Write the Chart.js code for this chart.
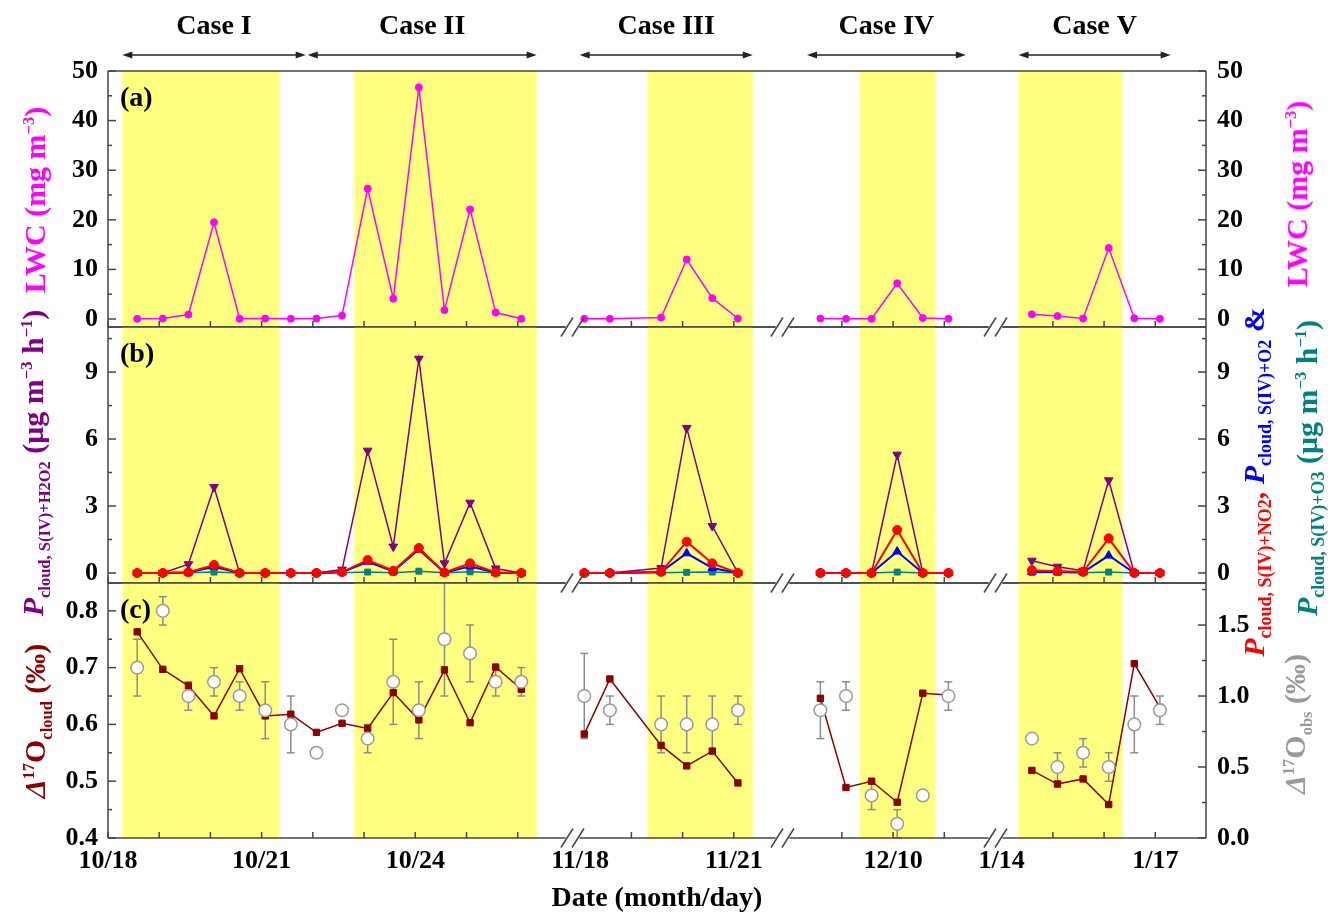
<!DOCTYPE html>
<html>
<head>
<meta charset="utf-8">
<script src="https://cdn.jsdelivr.net/npm/chart.js@4.4.1/dist/chart.umd.min.js"></script>
<style>
  body { margin: 0; background: #fff; }
  #wrap { position: relative; width: 1331px; height: 913px; background: #fff; overflow: hidden;
          font-family: 'Liberation Serif', 'Times New Roman', serif; }
  canvas { position: absolute; left: 0; }
  .ttl { position: absolute; white-space: nowrap; font-weight: bold; font-size: 30px; line-height: 1;
         transform: translate(-50%, -50%) rotate(-90deg); }
  .ttl sub, .ttl sup { font-size: 0.55em; line-height: 0; }
  .ttl.wide sub { font-size: 0.6em; }
</style>
</head>
<body>
<div id="wrap">
  <canvas id="cA" width="1331" height="337" style="top:0;width:1331px;height:337px"></canvas>
  <canvas id="cB" width="1331" height="276" style="top:317px;width:1331px;height:276px"></canvas>
  <canvas id="cC" width="1331" height="340" style="top:573px;width:1331px;height:340px"></canvas>

  <!-- left axis titles -->
  <div class="ttl" style="left:35px;top:200px;color:#ff00ff">LWC (mg m<sup>−3</sup>)</div>
  <div class="ttl" style="left:33px;top:463px;color:#800080"><i>P</i><sub>cloud, S(IV)+H2O2</sub> (μg m<sup>−3</sup> h<sup>−1</sup>)</div>
  <div class="ttl" style="left:35px;top:721px;color:#8b0000"><i>Δ</i><sup>17</sup>O<sub>cloud</sub> (‰)</div>

  <!-- right axis titles -->
  <div class="ttl" style="left:1297px;top:194px;color:#ff00ff">LWC (mg m<sup>−3</sup>)</div>
  <div class="ttl wide" style="left:1254px;top:482px"><span style="color:#ff0000"><i>P</i><sub>cloud, S(IV)+NO2</sub>,</span> <span style="color:#0000ff"><i>P</i><sub>cloud, S(IV)+O2</sub> &amp;</span></div>
  <div class="ttl wide" style="left:1307px;top:468px;color:#008080"><i>P</i><sub>cloud, S(IV)+O3</sub> (μg m<sup>−3</sup> h<sup>−1</sup>)</div>
  <div class="ttl" style="left:1295px;top:724px;color:#999999"><i>Δ</i><sup>17</sup>O<sub>obs</sub> (‰)</div>
</div>

<script>
// ---- data -------------------------------------------------------------
// sample times on the broken date axis (day units, 10/18 = 0)
const sampleX = [0.57, 1.07, 1.57, 2.07, 2.57, 3.07, 3.57, 4.07, 4.57, 5.07, 5.57, 6.07, 6.57, 7.07, 7.57, 8.07,
                 9.30, 9.80, 10.80, 11.30, 11.80, 12.30,
                 13.91, 14.41, 14.91, 15.41, 15.91, 16.41,
                 18.04, 18.54, 19.04, 19.54, 20.04, 20.54];
const breakX = [9.07, 13.17, 17.33];

const xTickVals = [0, 1, 2, 3, 4, 5, 6, 7, 8, 9.22, 10.22, 11.22, 12.22, 14.33, 15.33, 16.33, 17.45, 18.45, 19.45, 20.45];
const xTickText = ['10/18', '', '', '10/21', '', '', '10/24', '', '', '11/18', '', '', '11/21', '', '12/10', '', '1/14', '', '', '1/17'];

const caseNames  = ['Case I', 'Case II', 'Case III', 'Case IV', 'Case V'];
const caseArrows = [[0.28, 3.86], [3.90, 8.37], [9.21, 12.59], [13.65, 16.75], [17.78, 20.75]];
const caseBands  = [[0.28, 3.34], [4.81, 8.37], [10.54, 12.59], [14.68, 16.15], [17.78, 19.81]];

// (a) liquid water content, mg m-3
const lwc = [0.05, 0.1, 0.9, 19.5, 0.05, 0.1, 0.05, 0.1, 0.7, 26.3, 4.1, 46.7, 1.8, 22.1, 1.3, 0.05,
             0.05, 0.05, 0.3, 12.0, 4.2, 0.1,
             0.1, 0.05, 0.05, 7.2, 0.2, 0.05,
             0.95, 0.6, 0.1, 14.3, 0.15, 0.05];

// (b) sulfate production rates, ug m-3 h-1
const pH2O2 = [0, 0, 0.39, 3.85, 0, 0, 0, 0, 0.15, 5.48, 1.18, 9.6, 0.43, 3.15, 0.2, 0,
               0, 0, 0.22, 6.5, 2.1, 0,
               0, 0, 0, 5.3, 0, 0,
               0.55, 0.28, 0.1, 4.15, 0, 0];
const pNO2 = [0, 0, 0.03, 0.36, 0, 0, 0, 0, 0.04, 0.58, 0.1, 1.12, 0.02, 0.43, 0.02, 0,
              0, 0, 0.05, 1.4, 0.43, 0,
              0, 0, 0, 1.93, 0, 0,
              0.12, 0.08, 0.05, 1.55, 0, 0];
const pO2 = [0, 0, 0.02, 0.28, 0, 0, 0, 0, 0.03, 0.5, 0.07, 1.05, 0.01, 0.3, 0.01, 0,
             0, 0, 0.04, 0.88, 0.22, 0,
             0, 0, 0, 0.96, 0, 0,
             0.05, 0.04, 0.03, 0.78, 0, 0];
const pO3 = [0, 0, 0.01, 0.04, 0, 0, 0, 0, 0.01, 0.04, 0.01, 0.08, 0.01, 0.05, 0.01, 0,
             0, 0, 0.01, 0.03, 0.04, 0,
             0, 0, 0, 0.04, 0, 0,
             0.02, 0.02, 0.01, 0.04, 0, 0];

// (c) D17O, permil
const d17Ocloud = [0.763, 0.697, 0.668, 0.615, 0.698, 0.615, 0.618, 0.586, 0.602, 0.593, 0.656, 0.608, 0.696, 0.603, 0.701, 0.662,
                   0.583, 0.680, 0.563, 0.527, 0.553, 0.497,
                   0.646, 0.489, 0.500, 0.463, 0.655, 0.652,
                   0.519, 0.495, 0.504, 0.459, 0.707, 0.630];
const d17Oobs = [1.2, 1.6, 1.0, 1.1, 1.0, 0.9, 0.8, 0.6, 0.9, 0.7, 1.1, 0.9, 1.4, 1.3, 1.1, 1.1,
                 1.0, 0.9, 0.8, 0.8, 0.8, 0.9,
                 0.9, 1.0, 0.3, 0.1, 0.3, 1.0,
                 0.7, 0.5, 0.6, 0.5, 0.8, 0.9];
const d17OobsErr = [0.2, 0.1, 0.1, 0.1, 0.1, 0.2, 0.2, 0, 0, 0.1, 0.3, 0.2, 0.4, 0.2, 0.1, 0.1,
                    0.3, 0.1, 0.2, 0.2, 0.2, 0.1,
                    0.2, 0.1, 0.1, 0.1, 0, 0.1,
                    0, 0.1, 0.1, 0.1, 0.2, 0.1];

// axis ticks
const ticksA = [0, 10, 20, 30, 40, 50],       minorA = [5, 15, 25, 35, 45];
const ticksB = [0, 3, 6, 9],                  minorB = [1.5, 4.5, 7.5, 10.5];
const ticksC = [0.4, 0.5, 0.6, 0.7, 0.8],     minorC = [0.45, 0.55, 0.65, 0.75];
const ticksC2 = [0, 0.5, 1.0, 1.5],           minorC2 = [0.25, 0.75, 1.25, 1.75];

// ---- helpers -----------------------------------------------------------
const FONT = "'Liberation Serif', 'Times New Roman', serif";
const FRAME = '#454545';
const X_MAX = 21.44;

Chart.defaults.font.family = FONT;
Chart.defaults.color = '#000';

function series(vals) {
  const out = [];
  sampleX.forEach((x, i) => {
    if (i > 0) breakX.forEach(b => { if (sampleX[i - 1] < b && x > b) out.push({ x: b, y: null }); });
    out.push({ x, y: vals[i] });
  });
  return out;
}

function seg(ctx, x0, y0, x1, y1) {
  ctx.beginPath(); ctx.moveTo(x0, y0); ctx.lineTo(x1, y1); ctx.stroke();
}

// frame with gaps at the axis breaks
function brokenLine(ctx, xs, a, y) {
  let start = a.left;
  breakX.forEach(b => {
    const p = xs.getPixelForValue(b);
    seg(ctx, start, y, p - 7, y);
    start = p + 7;
  });
  seg(ctx, start, y, a.right, y);
}

const decor = {
  id: 'decor',
  beforeDatasetsDraw(chart) {
    const { ctx, chartArea: a } = chart;
    const xs = chart.scales.x;
    ctx.save();
    ctx.fillStyle = '#FFFF80';
    caseBands.forEach(([s, e]) => {
      const x0 = xs.getPixelForValue(s), x1 = xs.getPixelForValue(e);
      ctx.fillRect(x0, a.top, x1 - x0, a.bottom - a.top);
    });
    ctx.restore();
  },
  afterDraw(chart, args, o) {
    const { ctx, chartArea: a } = chart;
    const xs = chart.scales.x, yl = chart.scales.y, yr = chart.scales.y2;
    ctx.save();
    ctx.strokeStyle = FRAME;
    ctx.lineWidth = 1.5;
    seg(ctx, a.left, a.top, a.left, a.bottom);
    seg(ctx, a.right, a.top, a.right, a.bottom);
    if (o.topBroken) brokenLine(ctx, xs, a, a.top);
    else seg(ctx, a.left, a.top, a.right, a.top);
    brokenLine(ctx, xs, a, a.bottom);

    // inward ticks
    xTickVals.forEach(v => {
      const p = xs.getPixelForValue(v);
      if (breakX.some(b => Math.abs(xs.getPixelForValue(b) - p) < 12)) return;
      seg(ctx, p, a.bottom, p, a.bottom - 6);
    });
    o.yMajor.forEach(v => { const p = yl.getPixelForValue(v); seg(ctx, a.left, p, a.left + 8, p); });
    o.yMinor.forEach(v => { const p = yl.getPixelForValue(v); if (p > a.top) seg(ctx, a.left, p, a.left + 4, p); });
    o.y2Major.forEach(v => { const p = yr.getPixelForValue(v); seg(ctx, a.right, p, a.right - 8, p); });
    o.y2Minor.forEach(v => { const p = yr.getPixelForValue(v); if (p > a.top) seg(ctx, a.right, p, a.right - 4, p); });

    // break marks
    breakX.forEach(b => {
      const p = xs.getPixelForValue(b);
      [-5.5, 5.5].forEach(d => seg(ctx, p + d - 6, a.bottom + 9.5, p + d + 6, a.bottom - 9.5));
    });

    // panel letter
    ctx.fillStyle = '#000';
    ctx.font = 'bold 28px ' + FONT;
    ctx.textAlign = 'left';
    ctx.textBaseline = 'middle';
    ctx.fillText(o.letter, a.left + 12, a.top + 28);

    // case arrows and names above the top panel
    if (o.cases) {
      ctx.strokeStyle = '#222';
      ctx.lineWidth = 1.5;
      const y = 55;
      caseArrows.forEach(([s, e], i) => {
        const x0 = xs.getPixelForValue(s), x1 = xs.getPixelForValue(e);
        ctx.fillStyle = '#222';
        seg(ctx, x0 + 4, y, x1 - 4, y);
        ctx.beginPath(); ctx.moveTo(x0, y); ctx.lineTo(x0 + 10, y - 3.5); ctx.lineTo(x0 + 10, y + 3.5); ctx.fill();
        ctx.beginPath(); ctx.moveTo(x1, y); ctx.lineTo(x1 - 10, y - 3.5); ctx.lineTo(x1 - 10, y + 3.5); ctx.fill();
        ctx.fillStyle = '#000';
        ctx.font = 'bold 28px ' + FONT;
        ctx.textAlign = 'center';
        ctx.fillText(caseNames[i], (x0 + x1) / 2, 27);
      });
    }
    ctx.restore();
  }
};

const errBars = {
  id: 'errBars',
  beforeDatasetsDraw(chart) {
    const { ctx } = chart;
    const xs = chart.scales.x, ys = chart.scales.y2;
    ctx.save();
    ctx.strokeStyle = '#8c8c8c';
    ctx.lineWidth = 1.5;
    sampleX.forEach((v, i) => {
      const e = d17OobsErr[i];
      if (!e) return;
      const p = xs.getPixelForValue(v);
      const hi = d17Oobs[i] + e, lo = d17Oobs[i] - e;
      const pt = ys.getPixelForValue(Math.min(hi, ys.max)), pb = ys.getPixelForValue(lo);
      seg(ctx, p, pt, p, pb);
      if (hi <= ys.max) seg(ctx, p - 4, pt, p + 4, pt);
      seg(ctx, p - 4, pb, p + 4, pb);
    });
    ctx.restore();
  }
};

function yScale(pos, min, max, ticks, fmt) {
  return {
    position: pos, min, max,
    grid: { display: false, drawTicks: false },
    border: { display: false },
    afterBuildTicks: s => { s.ticks = ticks.map(v => ({ value: v })); },
    afterFit: s => {
      s.width = pos === 'left' ? 108 : 125;
      s.paddingTop = 0; s.paddingBottom = 0;
    },
    ticks: { font: { size: 26, weight: 'bold' }, color: '#000', padding: pos === 'left' ? 10 : 11,
             callback: fmt || (v => v) }
  };
}

function xScale(show) {
  return {
    type: 'linear', min: 0, max: X_MAX, display: show,
    grid: { display: false, drawTicks: false },
    border: { display: false },
    afterBuildTicks: s => { s.ticks = xTickVals.map(v => ({ value: v })); },
    afterFit: s => { if (show) s.height = 75; s.paddingLeft = 0; s.paddingRight = 0; },
    ticks: { font: { size: 26, weight: 'bold' }, color: '#000', padding: 8, autoSkip: false, maxRotation: 0,
             callback: (v, i) => xTickText[i] },
    title: { display: show, text: 'Date (month/day)', color: '#000', padding: 0,
             font: { size: 28, weight: 'bold', lineHeight: 1 } }
  };
}

function baseOptions(pad, scales, deco) {
  return {
    responsive: false, animation: false, events: [],
    layout: { padding: { left: 0, right: 0, top: pad.top, bottom: pad.bottom } },
    plugins: { legend: { display: false }, tooltip: { enabled: false }, decor: deco },
    scales
  };
}

function line(label, vals, color, style, r, w, extra) {
  return Object.assign({
    label, data: series(vals), borderColor: color, backgroundColor: color,
    pointBorderColor: color, pointBackgroundColor: color,
    pointStyle: style, pointRadius: r, borderWidth: w, pointBorderWidth: 1, spanGaps: false
  }, extra || {});
}

// ---- (a) LWC -----------------------------------------------------------
new Chart(document.getElementById('cA'), {
  type: 'line',
  data: { datasets: [ line('LWC', lwc, '#ff00ff', 'circle', 3.5, 1.5) ] },
  options: baseOptions({ top: 71, bottom: 10 }, {
    x: xScale(false),
    y: yScale('left', -1.61, 50, ticksA),
    y2: yScale('right', -1.61, 50, ticksA)
  }, { letter: '(a)', cases: true, topBroken: false, yMajor: ticksA, yMinor: minorA, y2Major: ticksA, y2Minor: minorA }),
  plugins: [decor]
});

// ---- (b) production rates ---------------------------------------------
new Chart(document.getElementById('cB'), {
  type: 'line',
  data: { datasets: [
    line('NO2', pNO2, '#ff0000', 'circle', 4.5, 2),
    line('O2', pO2, '#0000ff', 'triangle', 5, 2),
    line('O3', pO3, '#008080', 'rect', 4.2, 1.5),
    line('H2O2', pH2O2, '#800080', 'triangle', 5, 1.5, { pointRotation: 180 })
  ] },
  options: baseOptions({ top: 10, bottom: 10 }, {
    x: xScale(false),
    y: yScale('left', -0.45, 11.02, ticksB),
    y2: yScale('right', -0.45, 11.02, ticksB)
  }, { letter: '(b)', cases: false, topBroken: true, yMajor: ticksB, yMinor: minorB, y2Major: ticksB, y2Minor: minorB }),
  plugins: [decor]
});

// ---- (c) D17O ----------------------------------------------------------
new Chart(document.getElementById('cC'), {
  type: 'line',
  data: { datasets: [
    line('obs', d17Oobs, '#999999', 'circle', 6.3, 0,
         { yAxisID: 'y2', showLine: false, pointBackgroundColor: '#ffffff', pointBorderColor: '#9a9a9a', pointBorderWidth: 1.5 }),
    line('cloud', d17Ocloud, '#8b0000', 'rect', 4.5, 1.5, { yAxisID: 'y' })
  ] },
  options: baseOptions({ top: 10, bottom: 0 }, {
    x: xScale(true),
    y: yScale('left', 0.4, 0.849, ticksC, v => v.toFixed(1)),
    y2: yScale('right', 0, 1.796, ticksC2, v => v.toFixed(1))
  }, { letter: '(c)', cases: false, topBroken: true, yMajor: ticksC, yMinor: minorC, y2Major: ticksC2, y2Minor: minorC2 }),
  plugins: [decor, errBars]
});
</script>
</body>
</html>
